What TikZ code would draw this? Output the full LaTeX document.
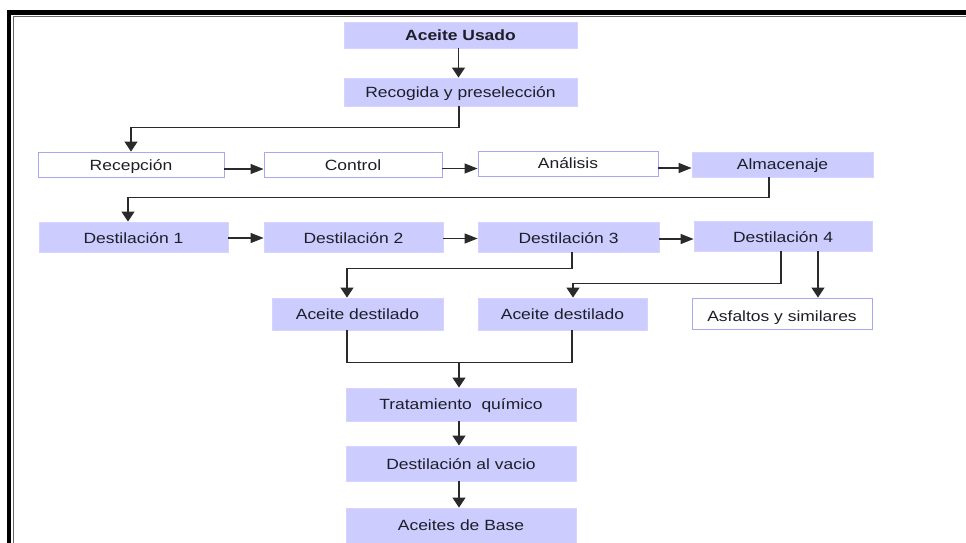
\documentclass[tikz,border=0pt]{standalone}
\usepackage{fontspec}
\setmainfont{Liberation Sans}[FakeStretch=1.18]
\usetikzlibrary{arrows.meta}
\definecolor{boxfill}{HTML}{CCCCFF}
\definecolor{boxline}{HTML}{A8A8F0}
\definecolor{linec}{HTML}{2A2A2A}
\definecolor{txt}{HTML}{1E1E28}
\tikzset{
  base/.style={inner sep=0pt, text=txt, font=\fontsize{14.8}{16}\selectfont, text height=13pt, text depth=3pt},
  fbox/.style={base, fill=boxfill, draw=boxfill!85!white, line width=0.8pt},
  wbox/.style={base, fill=white, draw=boxline, line width=0.9pt},
  conn/.style={draw=linec, line width=1.2pt},
  harr/.style={conn, -{Triangle[length=13pt,width=10pt]}},
  varr/.style={conn, -{Triangle[length=10pt,width=13pt]}},
}
\begin{document}
\begin{tikzpicture}[x=1pt,y=-1pt]
\useasboundingbox (0,0) rectangle (966,542);
\clip (0,0) rectangle (966,542);
% frame
\draw[black, line width=4.5pt] (8.8,700) -- (8.8,12.3) -- (1100,12.3);
\draw[black!60, line width=1.2pt] (13.4,700) -- (13.4,16.2) -- (1100,16.2);
% row 1-2
\node[fbox, minimum width=233pt, minimum height=26pt, font=\fontsize{14.8}{16}\selectfont\bfseries] (au) at (460.5,35) {Aceite Usado};
\node[fbox, minimum width=233pt, minimum height=28pt] (rp) at (460.5,92) {Recogida y preselección};
% row 3
\node[wbox, minimum width=186pt, minimum height=25pt, text height=15pt] (rec) at (131,164.5) {Recepción};
\node[wbox, minimum width=178pt, minimum height=25pt, text height=15pt] (ctl) at (353,164.5) {Control};
\node[wbox, minimum width=180pt, minimum height=25pt] (ana) at (568,163.5) {Análisis};
\node[fbox, minimum width=181pt, minimum height=25pt] (alm) at (782.5,164.5) {Almacenaje};
% row 4
\node[fbox, minimum width=189pt, minimum height=30pt, text height=15pt] (d1) at (133.5,237) {Destilación 1};
\node[fbox, minimum width=179pt, minimum height=30pt, text height=15pt] (d2) at (353.5,237) {Destilación 2};
\node[fbox, minimum width=181pt, minimum height=30pt, text height=15pt] (d3) at (568.5,237) {Destilación 3};
\node[fbox, minimum width=178pt, minimum height=30pt, text height=15pt] (d4) at (783,236) {Destilación 4};
% row 5
\node[fbox, minimum width=171pt, minimum height=32pt] (ad1) at (357.5,314) {Aceite destilado};
\node[fbox, minimum width=169pt, minimum height=32pt] (ad2) at (562.5,314) {Aceite destilado};
\node[wbox, minimum width=180pt, minimum height=31pt, text height=18pt] (asf) at (782,313.5) {Asfaltos y similares};
% column
\node[fbox, minimum width=230pt, minimum height=33pt] (tq) at (461,404.5) {Tratamiento\ \ químico};
\node[fbox, minimum width=230pt, minimum height=35pt, text height=14pt] (dv) at (461,463.5) {Destilación al vacio};
\node[fbox, minimum width=230pt, minimum height=35pt] (ab) at (461,525.5) {Aceites de Base};
% connectors
\draw[varr] ([xshift=-2pt]au.south) -- ([xshift=-2pt]rp.north);
\draw[varr] ([xshift=-1.5pt]rp.south) -- ++(0,21) -| (rec.north);
\draw[harr] (rec.east |- 0,169) -- (ctl.west |- 0,169);
\draw[harr] (ctl.east |- 0,168.5) -- (ana.west |- 0,168.5);
\draw[harr] (ana.east |- 0,168) -- (alm.west |- 0,168);
\draw[varr] ([xshift=-13.5pt]alm.south) -- ++(0,20) -| ([xshift=-5.5pt]d1.north);
\draw[harr] (d1.east |- 0,238) -- (d2.west |- 0,238);
\draw[harr] (d2.east |- 0,238.5) -- (d3.west |- 0,238.5);
\draw[harr] (d3.east |- 0,239) -- (d4.west |- 0,239);
\draw[varr] ([xshift=3.5pt]d3.south) -- ++(0,16) -| ([xshift=-10.5pt]ad1.north);
\draw[varr] ([xshift=-2pt]d4.south) -- ++(0,32) -| ([xshift=10.5pt]ad2.north);
\draw[varr] ([xshift=35pt]d4.south) -- ([xshift=35pt]d4.south |- asf.north);
\draw[conn] ([xshift=-10.5pt]ad1.south) -- ++(0,32) coordinate (j1) -| ([xshift=9.5pt]ad2.south);
\coordinate (m) at (459,362);
\draw[varr] (m) -- (tq.north -| m);
\draw[varr] ([xshift=-2pt]tq.south) -- ([xshift=-2pt]dv.north);
\draw[varr] ([xshift=-2pt]dv.south) -- ([xshift=-2pt]ab.north);
\end{tikzpicture}
\end{document}
